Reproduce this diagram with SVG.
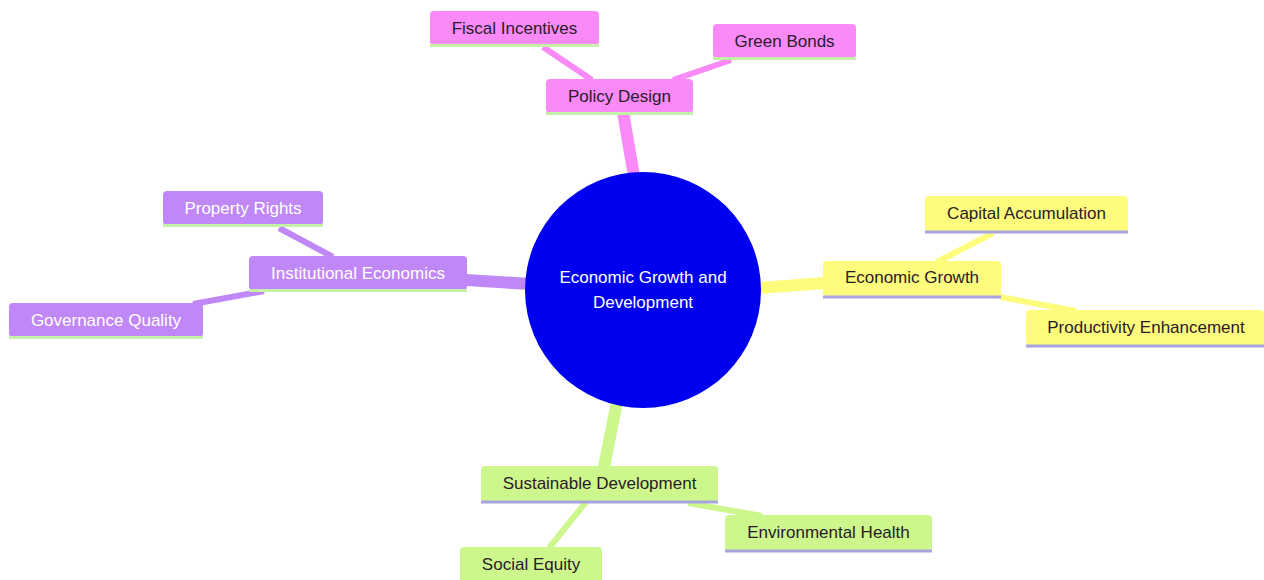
<svg xmlns="http://www.w3.org/2000/svg" width="1264" height="580" viewBox="0 0 1264 580">
<style>
text{font-family:"Liberation Sans",Arial,sans-serif;font-size:17px;text-anchor:middle}
.pk{fill:#f98af7}.pu{fill:#c088f6}.ye{fill:#fdfc7c}.gr{fill:#cdf78c}
.lpk{stroke:#f98af7}.lpu{stroke:#c088f6}.lye{stroke:#fdfc7c}.lgr{stroke:#cdf78c}
.tk{fill:#2a1a2a}.tw{fill:#ffffff}
.bg{stroke:#c4f0a8;stroke-width:3}.bl{stroke:#a8a4e0;stroke-width:3}
line{stroke-linecap:butt}
</style>
<rect width="1264" height="580" fill="#ffffff"/>
<g id="connectors" fill="none">
<line class="lpk" x1="623" y1="112" x2="634" y2="176" stroke-width="12"/>
<line class="lpk" x1="543" y1="47" x2="592" y2="80" stroke-width="6"/>
<line class="lpk" x1="731" y1="60" x2="673" y2="80" stroke-width="6"/>
<line class="lpu" x1="466" y1="280" x2="530" y2="284" stroke-width="12"/>
<line class="lpu" x1="279" y1="228" x2="333" y2="257" stroke-width="6"/>
<line class="lpu" x1="193" y1="304" x2="264" y2="291" stroke-width="6"/>
<line class="lye" x1="758" y1="288" x2="824" y2="283" stroke-width="12"/>
<line class="lye" x1="993" y1="233" x2="937" y2="262" stroke-width="6"/>
<line class="lye" x1="1000" y1="297" x2="1076" y2="311" stroke-width="6"/>
<line class="lgr" x1="617" y1="402" x2="604" y2="467" stroke-width="12"/>
<line class="lgr" x1="688" y1="503" x2="762" y2="516" stroke-width="6"/>
<line class="lgr" x1="586" y1="502" x2="549" y2="548" stroke-width="6"/>
</g>
<g id="root">
<circle cx="643" cy="290" r="118" fill="#0000f0"/>
<text class="tw" x="643" y="283">Economic Growth and</text>
<text class="tw" x="643" y="308">Development</text>
</g>
<g id="policy-design">
<rect class="pk" x="546" y="79" width="147" height="34" rx="4"/>
<line class="bg" x1="546" y1="113.5" x2="693" y2="113.5"/>
<text class="tk" x="619.5" y="102">Policy Design</text>
</g>
<g id="fiscal-incentives">
<rect class="pk" x="430" y="11" width="169" height="34" rx="4"/>
<line class="bg" x1="430" y1="45.5" x2="599" y2="45.5"/>
<text class="tk" x="514.5" y="34">Fiscal Incentives</text>
</g>
<g id="green-bonds">
<rect class="pk" x="713" y="24" width="143" height="34" rx="4"/>
<line class="bg" x1="713" y1="58.5" x2="856" y2="58.5"/>
<text class="tk" x="784.5" y="47">Green Bonds</text>
</g>
<g id="institutional-economics">
<rect class="pu" x="249" y="256" width="218" height="34" rx="4"/>
<line class="bg" x1="249" y1="290.5" x2="467" y2="290.5"/>
<text class="tw" x="358" y="279">Institutional Economics</text>
</g>
<g id="property-rights">
<rect class="pu" x="163" y="191" width="160" height="34" rx="4"/>
<line class="bg" x1="163" y1="225.5" x2="323" y2="225.5"/>
<text class="tw" x="243" y="214">Property Rights</text>
</g>
<g id="governance-quality">
<rect class="pu" x="9" y="303" width="194" height="34" rx="4"/>
<line class="bg" x1="9" y1="337.5" x2="203" y2="337.5"/>
<text class="tw" x="106" y="326">Governance Quality</text>
</g>
<g id="economic-growth">
<rect class="ye" x="823" y="261" width="178" height="36" rx="4"/>
<line class="bl" x1="823" y1="297" x2="1001" y2="297"/>
<text class="tk" x="912" y="283">Economic Growth</text>
</g>
<g id="capital-accumulation">
<rect class="ye" x="925" y="196" width="203" height="36" rx="4"/>
<line class="bl" x1="925" y1="232" x2="1128" y2="232"/>
<text class="tk" x="1026.5" y="219">Capital Accumulation</text>
</g>
<g id="productivity-enhancement">
<rect class="ye" x="1026" y="310" width="238" height="36" rx="4"/>
<line class="bl" x1="1026" y1="346" x2="1264" y2="346"/>
<text class="tk" x="1146" y="333">Productivity Enhancement</text>
</g>
<g id="sustainable-development">
<rect class="gr" x="481" y="466" width="237" height="36" rx="4"/>
<line class="bl" x1="481" y1="502" x2="718" y2="502"/>
<text class="tk" x="599.5" y="489">Sustainable Development</text>
</g>
<g id="environmental-health">
<rect class="gr" x="725" y="515" width="207" height="36" rx="4"/>
<line class="bl" x1="725" y1="551" x2="932" y2="551"/>
<text class="tk" x="828.5" y="538">Environmental Health</text>
</g>
<g id="social-equity">
<rect class="gr" x="460" y="547" width="142" height="36" rx="4"/>
<line class="bl" x1="460" y1="583" x2="602" y2="583"/>
<text class="tk" x="531" y="570">Social Equity</text>
</g>
</svg>
